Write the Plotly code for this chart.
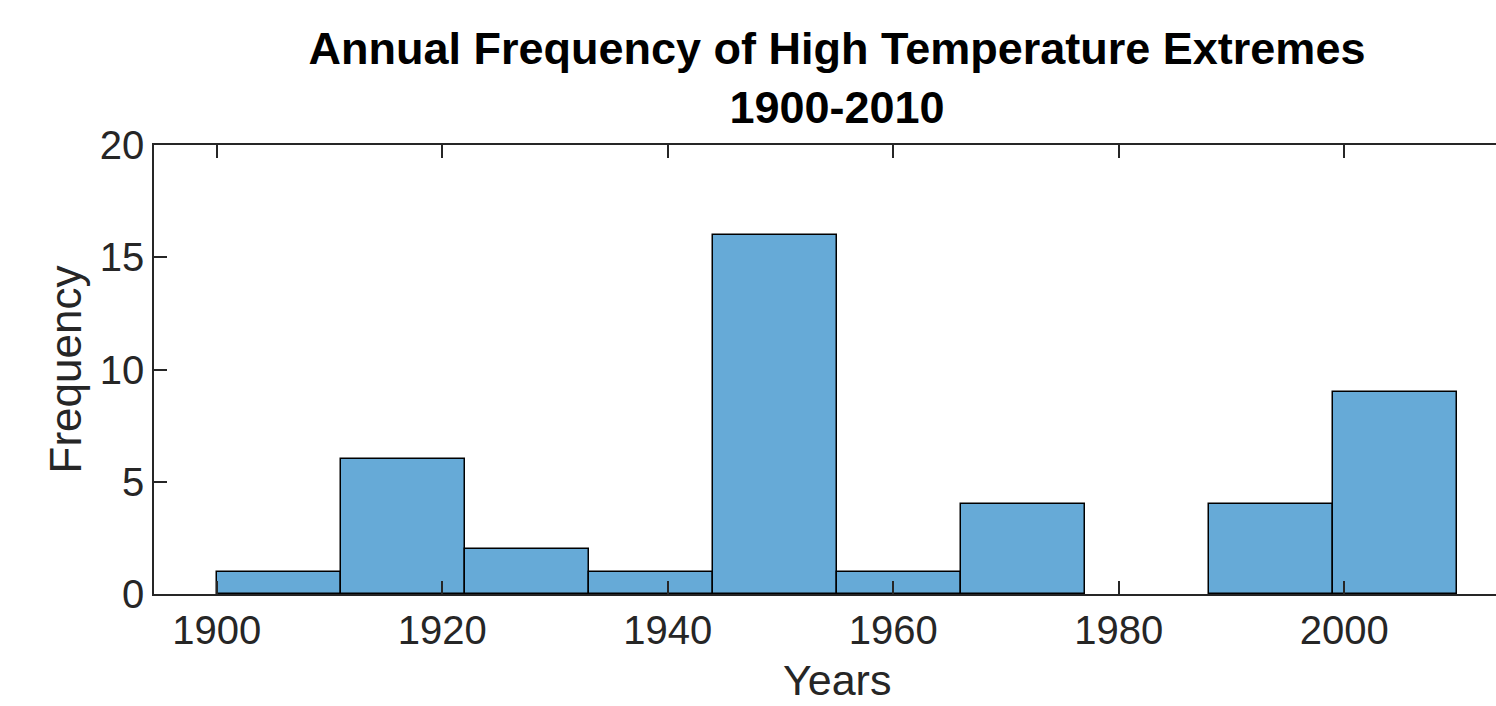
import plotly.graph_objects as go

# Data
bin_edges = [1900, 1911, 1922, 1933, 1944, 1955, 1966, 1977, 1988, 1999, 2010]
counts = [1, 6, 2, 1, 16, 1, 4, 0, 4, 9]
x_ticks = [1900, 1920, 1940, 1960, 1980, 2000]
y_ticks = [0, 5, 10, 15, 20]

centers = [(a + b) / 2 for a, b in zip(bin_edges[:-1], bin_edges[1:])]
widths = [b - a for a, b in zip(bin_edges[:-1], bin_edges[1:])]
edge_colors = ["rgba(0,0,0,0)" if c == 0 else "#000000" for c in counts]

FONT = "Liberation Sans, Arial, Helvetica, sans-serif"
AX = "#262626"

fig = go.Figure(
    go.Bar(
        x=centers,
        y=counts,
        width=widths,
        marker=dict(color="#66AAD7", line=dict(color=edge_colors, width=1.5)),
        hoverinfo="x+y",
    )
)

W, H = 1496, 706
L, R, T, B = 154, 0, 145, 112
plot_w = W - L - R
px_per_year = 11.275
x0 = 1900 - (216.7 - L) / px_per_year
x1 = x0 + plot_w / px_per_year
axes_center_px = 837
cx = (axes_center_px - L) / plot_w

fig.update_layout(
    width=W,
    height=H,
    margin=dict(l=L, r=R, t=T, b=B, pad=0),
    paper_bgcolor="white",
    plot_bgcolor="white",
    showlegend=False,
    bargap=0,
    font=dict(family=FONT, color=AX),
    title=dict(
        text="<b>Annual Frequency of High Temperature Extremes<br>1900-2010</b>",
        x=axes_center_px / W,
        xanchor="center",
        xref="container",
        yref="container",
        y=1 - 64 / H,
        yanchor="top",
        font=dict(family=FONT, size=45, color="#000000"),
    ),
    xaxis=dict(
        range=[x0, x1],
        tickvals=x_ticks,
        ticktext=[str(v) for v in x_ticks],
        ticks="inside",
        ticklen=13,
        tickwidth=1.5,
        tickcolor=AX,
        showline=True,
        linecolor=AX,
        linewidth=1.5,
        mirror="ticks",
        showgrid=False,
        zeroline=False,
        tickfont=dict(family=FONT, size=40, color=AX),
    ),
    yaxis=dict(
        range=[0, 20],
        tickvals=y_ticks,
        ticks="inside",
        ticklen=13,
        tickwidth=1.5,
        tickcolor=AX,
        showline=True,
        linecolor=AX,
        linewidth=1.5,
        mirror=False,
        showgrid=False,
        zeroline=False,
        tickfont=dict(family=FONT, size=40, color=AX),
        title=dict(text="Frequency", font=dict(family=FONT, size=44, color=AX), standoff=4),
    ),
    annotations=[
        dict(
            text="Years",
            xref="paper",
            yref="paper",
            x=cx,
            y=0,
            yshift=-112,
            xanchor="center",
            yanchor="bottom",
            showarrow=False,
            font=dict(family=FONT, size=43, color=AX),
        )
    ],
)

fig.write_html(
    "out.html",
    config={"displayModeBar": False},
    post_script="document.body.style.margin='0';",
)
